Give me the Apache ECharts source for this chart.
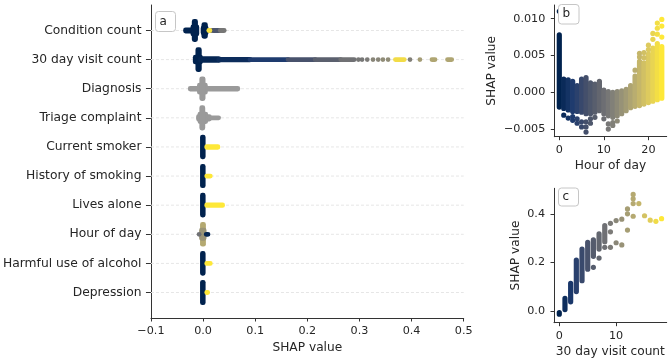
<!DOCTYPE html>
<html><head><meta charset="utf-8">
<script src="https://cdn.jsdelivr.net/npm/echarts@6/dist/echarts.min.js"></script>
<style>html,body{margin:0;padding:0;background:#fff}#c{width:669px;height:359px}</style>
</head><body><div id="c"></div>
<script>
// ---------- Panel a: beeswarm (each item: [shapStart, shapEnd, halfSpread(rows), colourValue(-1 = grey)]) ----------
const features = ['Condition count','30 day visit count','Diagnosis','Triage complaint','Current smoker','History of smoking','Lives alone','Hour of day','Harmful use of alcohol','Depression'];
const shapTicks = [-0.1, 0.0, 0.1, 0.2, 0.3, 0.4, 0.5];

const conditionCount = [
  [-0.0336, -0.0170, 0.02, 0.00],
  [-0.0195, -0.0120, 0.12, 0.00],
  [-0.0170, -0.0145, 0.31, 0.00],
  [0.0000, 0.0060, 0.08, 0.00],
  [0.0015, 0.0045, 0.20, 0.00],
  [0.0140, 0.0200, 0.00, 0.50],
  [0.0200, 0.0330, 0.00, 0.30],
  [0.0330, 0.0405, 0.00, 0.48],
  [0.0110, 0.0130, 0.00, 0.97]
];
const visitCount30 = [
  [-0.0150, -0.0050, 0.08, 0.00],
  [-0.0100, -0.0072, 0.34, 0.00],
  [-0.0050, 0.0300, 0.03, 0.02],
  [0.0300, 0.0900, 0.01, 0.05],
  [0.0900, 0.1630, 0.00, 0.13],
  [0.1630, 0.2150, 0.00, 0.28],
  [0.2150, 0.2640, 0.00, 0.36],
  [0.2640, 0.2900, 0.00, 0.45],
  [0.2980, 0.2980, 0.00, 0.48],
  [0.3050, 0.3050, 0.00, 0.48],
  [0.3150, 0.3150, 0.00, 0.50],
  [0.3260, 0.3260, 0.00, 0.55],
  [0.3360, 0.3360, 0.00, 0.55],
  [0.3450, 0.3450, 0.00, 0.58],
  [0.3550, 0.3550, 0.00, 0.58],
  [0.3690, 0.3860, 0.00, 0.95],
  [0.3970, 0.3970, 0.00, 0.52],
  [0.4160, 0.4160, 0.00, 0.66],
  [0.4390, 0.4450, 0.00, 0.70],
  [0.4690, 0.4770, 0.00, 0.70]
];
const diagnosis = [
  [-0.0246, 0.0666, 0.01, -1],
  [-0.0070, 0.0044, 0.12, -1],
  [-0.0025, 0.0000, 0.34, -1]
];
const triageComplaint = [
  [-0.0088, 0.0120, 0.04, -1],
  [-0.0060, 0.0050, 0.13, -1],
  [-0.0025, -0.0005, 0.35, -1],
  [0.0120, 0.0298, 0.00, -1]
];
const currentSmoker = [[-0.0012, 0.0002, 0.34, 0], [0.0070, 0.0284, 0.01, 1]];
const historySmoking = [[-0.0012, 0.0002, 0.33, 0], [0.0070, 0.0139, 0.00, 1]];
const livesAlone = [[-0.0012, 0.0002, 0.34, 0], [0.0070, 0.0374, 0.01, 1]];
const hourOfDayShap = [[-0.0012, 0.0008, 0.34, 0.72], [-0.0030, 0.0020, 0.14, 0.62], [-0.0076, -0.0076, 0, 0.45], [0.0060, 0.0095, 0, 0.02]];
const harmfulAlcohol = [[-0.0012, 0.0002, 0.34, 0], [0.0070, 0.0139, 0.00, 1]];
const depression = [[-0.0012, 0.0002, 0.35, 0], [0.0070, 0.0088, 0.00, 1]];
const swarms = [conditionCount, visitCount30, diagnosis, triageComplaint, currentSmoker, historySmoking, livesAlone, hourOfDayShap, harmfulAlcohol, depression];

// ---------- Panel b: Hour of day dependence ----------
const hours = [0,1,2,3,4,5,6,7,8,9,10,11,12,13,14,15,16,17,18,19,20,21,22,23];
const hourLow  = [-0.0020,-0.0022,-0.0024,-0.0026,-0.0026,-0.0027,-0.0029,-0.0029,-0.0027,-0.0025,-0.0029,-0.0032,-0.0034,-0.0032,-0.0029,-0.0025,-0.0021,-0.0019,-0.0018,-0.0016,-0.0014,-0.0012,-0.0010,-0.0008];
const hourHigh = [0.0078,0.0018,0.0017,0.0015,0.0009,0.0018,0.0020,0.0013,0.0011,0.0015,0.0003,0.0001,0.0000,0.0001,0.0002,0.0004,0.0009,0.0022,0.0042,0.0040,0.0052,0.0060,0.0066,0.0062];
const hourExtraX = [1,2,3,3,4,4,5,5,6,6,6,7,7,8,10,11,11,12,12,13,17,18,18,19,19,20,20,21,21,22,22,22,23,23,23,0];
const hourExtraY = [-0.0031,-0.0035,-0.0038,-0.0033,-0.0036,-0.0042,-0.0040,-0.0047,-0.0054,-0.0047,-0.0040,-0.0036,-0.0042,-0.0034,-0.0036,-0.0043,-0.0050,-0.0045,-0.0041,-0.0039,0.0030,0.0053,0.0048,0.0054,0.0047,0.0064,0.0058,0.0072,0.0080,0.0087,0.0094,0.0079,0.0090,0.0099,0.0075,0.0110];
const hourTicks = [0, 10, 20];
const hourShapTicks = [-0.005, 0.000, 0.005, 0.010];

// ---------- Panel c: 30 day visit count dependence ----------
const visitCols = [0,1,2,3,4,5,6,7,8];
const visitLow  = [-0.013,0.006,0.038,0.080,0.125,0.172,0.225,0.255,0.285];
const visitHigh = [-0.006,0.052,0.114,0.210,0.255,0.283,0.293,0.318,0.352];
const visitExtraX = [6,7,8,9,9,9,10,10,11,11,12,12,12,13,13,13,13,14,15,16,17,18];
const visitExtraY = [0.180,0.218,0.262,0.361,0.326,0.262,0.372,0.281,0.378,0.272,0.420,0.400,0.333,0.480,0.462,0.442,0.390,0.442,0.392,0.374,0.369,0.380];
const visitTicks = [0, 10];
const visitShapTicks = [0.0, 0.2, 0.4];

// ---------- colours ----------
const cividis = ['#00224e','#1d3a6e','#414d6b','#5f636e','#7c7b78','#9b9577','#bcaf6f','#dfcb5d','#fee838'];
function hex2rgb(h){return [parseInt(h.substr(1,2),16),parseInt(h.substr(3,2),16),parseInt(h.substr(5,2),16)];}
function cmap(t){
  if (t < 0) return '#9a9a9a';
  t = Math.max(0, Math.min(1, t));
  const p = t*(cividis.length-1), i = Math.min(Math.floor(p), cividis.length-2), f = p - i;
  const a = hex2rgb(cividis[i]), b = hex2rgb(cividis[i+1]);
  return 'rgb(' + a.map((v,k)=>Math.round(v+(b[k]-v)*f)).join(',') + ')';
}
const minus = s => s.replace('-', '\u2212');
const txt = '#262626';
const FONT = 'DejaVu Sans';

const swarmData = [];
swarms.forEach((arr, row) => arr.forEach(d => swarmData.push([d[0], d[1], d[2], d[3], row])));
const bData = hours.map((h,i)=>[h, hourLow[i], hourHigh[i], h/23]).concat(hourExtraX.map((h,i)=>[h, hourExtraY[i], hourExtraY[i], h/23]));
const cData = visitCols.map((n,i)=>[n, visitLow[i], visitHigh[i], n/18]).concat(visitExtraX.map((n,i)=>[n, visitExtraY[i], visitExtraY[i], n/18]));

function swarmItem(params, api){
  const x1=api.value(0), x2=api.value(1), s=api.value(2), c=api.value(3), row=api.value(4);
  const a=api.coord([x1,row-s]), b=api.coord([x2,row+s]); const r=2.4;
  return {type:'rect', shape:{x:Math.min(a[0],b[0])-r, y:Math.min(a[1],b[1])-r, width:Math.abs(b[0]-a[0])+2*r, height:Math.abs(b[1]-a[1])+2*r, r:r}, style:{fill:cmap(c)}};
}
function capsuleItem(params, api){
  const x=api.value(0), lo=api.value(1), hi=api.value(2), c=api.value(3);
  const a=api.coord([x,lo]), b=api.coord([x,hi]); const r=2.6;
  return {type:'rect', shape:{x:a[0]-r, y:Math.min(a[1],b[1])-r, width:2*r, height:Math.abs(b[1]-a[1])+2*r, r:r}, style:{fill:cmap(c)}};
}
function gridLineItem(params, api){
  const row=api.value(0);
  const a=api.coord([-0.1,row]), b=api.coord([0.5,row]);
  return {type:'line', shape:{x1:a[0], y1:a[1], x2:b[0], y2:b[1]}, style:{stroke:'#e6e6e6', lineWidth:1, lineDash:[3,2]}};
}

const axisLineS = {show:true, onZero:false, lineStyle:{color:'#333', width:1}};
const tickS = {show:true, length:3.5, lineStyle:{color:'#333', width:1}};
const lab = {color:txt, fontSize:11.2, fontFamily:FONT};
const nameS = {color:txt, fontSize:12.2, fontFamily:FONT};

const option = {
  animation:false,
  backgroundColor:'#fff',
  grid:[
    {left:149.5, top:5, width:314.2, height:316},
    {left:554.3, top:5, width:112.4, height:131.7},
    {left:554, top:188.3, width:112.7, height:134.4}
  ],
  xAxis:[
    {gridIndex:0, type:'value', min:-0.1, max:0.5, interval:0.1, axisLine:axisLineS, axisTick:tickS, splitLine:{show:false},
     axisLabel:Object.assign({margin:8, formatter:v=>minus((Math.abs(v)<1e-9?0:v).toFixed(1))}, lab),
     name:'SHAP value', nameLocation:'middle', nameGap:24, nameTextStyle:nameS},
    {gridIndex:1, type:'value', min:-1.12, max:24.1, axisLine:axisLineS, axisTick:Object.assign({customValues:hourTicks}, tickS), splitLine:{show:false},
     axisLabel:Object.assign({margin:8, customValues:hourTicks, formatter:v=>String(Math.round(v))}, lab),
     name:'Hour of day', nameLocation:'middle', nameGap:23, nameTextStyle:nameS},
    {gridIndex:2, type:'value', min:-0.93, max:18.9, axisLine:axisLineS, axisTick:Object.assign({customValues:visitTicks}, tickS), splitLine:{show:false},
     axisLabel:Object.assign({margin:8, customValues:visitTicks, formatter:v=>String(Math.round(v))}, lab),
     name:'30 day visit count', nameLocation:'middle', nameGap:23, nameTextStyle:nameS}
  ],
  yAxis:[
    {gridIndex:0, type:'value', inverse:true, min:-0.875, max:9.875, axisLine:axisLineS,
     axisTick:Object.assign({customValues:[0,1,2,3,4,5,6,7,8,9]}, tickS, {length:5}), splitLine:{show:false},
     axisLabel:{customValues:[0,1,2,3,4,5,6,7,8,9], formatter:v=>features[Math.round(v)], margin:9.5, color:txt, fontSize:12.3, fontFamily:FONT}},
    {gridIndex:1, type:'value', min:-0.00603, max:0.01186, axisLine:axisLineS, axisTick:Object.assign({customValues:hourShapTicks}, tickS), splitLine:{show:false},
     axisLabel:Object.assign({margin:9, customValues:hourShapTicks, formatter:v=>minus((Math.abs(v)<1e-9?0:v).toFixed(3))}, lab),
     name:'SHAP value', nameLocation:'middle', nameGap:56, nameRotate:90, nameTextStyle:nameS},
    {gridIndex:2, type:'value', min:-0.048, max:0.505, axisLine:axisLineS, axisTick:Object.assign({customValues:visitShapTicks}, tickS), splitLine:{show:false},
     axisLabel:Object.assign({margin:9, customValues:visitShapTicks, formatter:v=>minus((Math.abs(v)<1e-9?0:v).toFixed(1))}, lab),
     name:'SHAP value', nameLocation:'middle', nameGap:32, nameRotate:90, nameTextStyle:nameS}
  ],
  series:[
    {type:'custom', xAxisIndex:0, yAxisIndex:0, renderItem:gridLineItem, data:features.map((f,i)=>[i]), silent:true, z:1},
    {type:'custom', xAxisIndex:0, yAxisIndex:0, renderItem:swarmItem, data:swarmData, z:2},
    {type:'custom', xAxisIndex:1, yAxisIndex:1, renderItem:capsuleItem, data:bData, z:2, clip:false},
    {type:'custom', xAxisIndex:2, yAxisIndex:2, renderItem:capsuleItem, data:cData, z:2, clip:false}
  ],
  graphic:[
    {type:'rect', z:100, shape:{x:155.5, y:11.5, width:20, height:20, r:3}, style:{fill:'#fff', stroke:'#c6c6c6', lineWidth:1}},
    {type:'text', z:101, style:{text:'a', x:159.5, y:21.5, verticalAlign:'middle', fill:txt, font:'12px "DejaVu Sans"'}},
    {type:'rect', z:100, shape:{x:558.5, y:4.5, width:20.5, height:19.5, r:3}, style:{fill:'#fff', stroke:'#c6c6c6', lineWidth:1}},
    {type:'text', z:101, style:{text:'b', x:562.5, y:14, verticalAlign:'middle', fill:txt, font:'12px "DejaVu Sans"'}},
    {type:'rect', z:100, shape:{x:558.5, y:188, width:20, height:18, r:3}, style:{fill:'#fff', stroke:'#c6c6c6', lineWidth:1}},
    {type:'text', z:101, style:{text:'c', x:562.5, y:197, verticalAlign:'middle', fill:txt, font:'12px "DejaVu Sans"'}}
  ]
};
echarts.init(document.getElementById('c'), null, {renderer:'canvas'}).setOption(option);
</script></body></html>
